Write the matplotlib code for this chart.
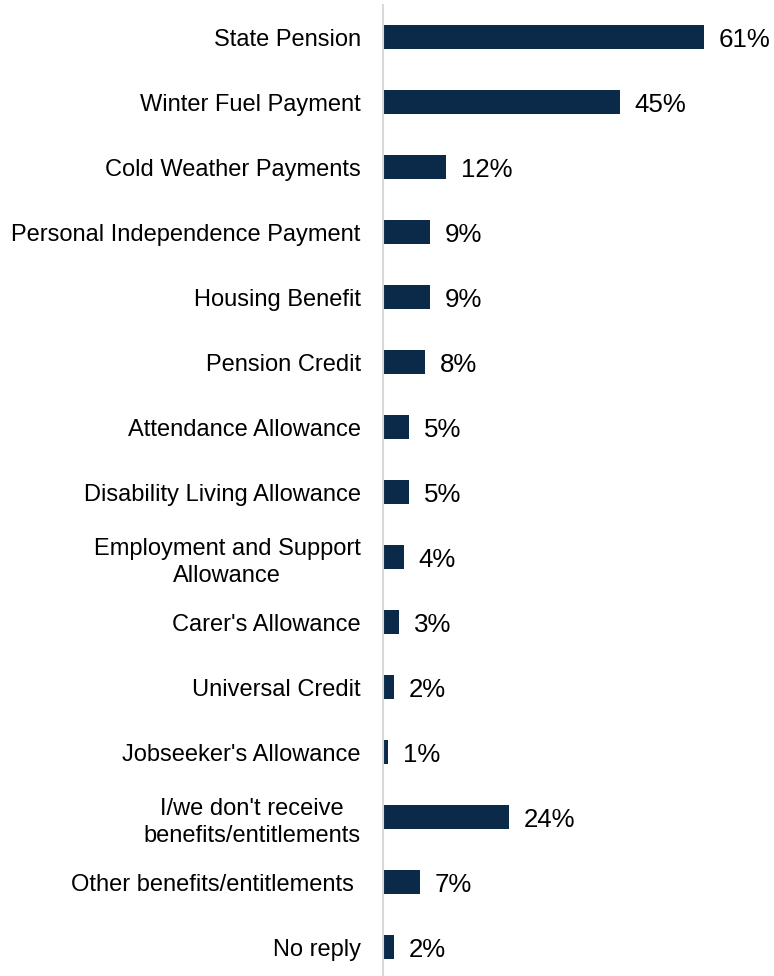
import matplotlib.pyplot as plt

# Benefits / entitlements received
categorias = [
    "State Pension",
    "Winter Fuel Payment",
    "Cold Weather Payments",
    "Personal Independence Payment",
    "Housing Benefit",
    "Pension Credit",
    "Attendance Allowance",
    "Disability Living Allowance",
    "Employment and Support\nAllowance",
    "Carer's Allowance",
    "Universal Credit",
    "Jobseeker's Allowance",
    "I/we don't receive\nbenefits/entitlements",
    "Other benefits/entitlements ",
    "No reply",
]
porcentajes = [61, 45, 12, 9, 9, 8, 5, 5, 4, 3, 2, 1, 24, 7, 2]

COLOR_BARRA = "#0b2a4a"
plt.rcParams["font.family"] = ["Liberation Sans", "DejaVu Sans"]

fig = plt.figure(figsize=(7.74, 9.76), dpi=100)
ax = fig.add_axes([383 / 774, -0.0036, 0.49, 975 / 976])

pos = list(range(len(categorias)))
barras = ax.barh(pos, porcentajes, height=0.36, color=COLOR_BARRA)

for b, v in zip(barras, porcentajes):
    ax.text(b.get_width() + 2.8, b.get_y() + b.get_height() / 2, f"{v}%",
            va="center_baseline", ha="left", fontsize=18.6, color="black")

ax.set_ylim(len(categorias) - 0.5, -0.5)
ax.set_xlim(0, 72)
ax.set_yticks(pos)
ax.set_yticklabels(categorias, fontsize=17, multialignment="center", linespacing=1.3)
ax.tick_params(axis="y", length=0, pad=16)
ax.set_xticks([])

for lado in ["top", "right", "bottom"]:
    ax.spines[lado].set_visible(False)
ax.spines["left"].set_color("#d9d9d9")
ax.spines["left"].set_linewidth(1.5)

plt.savefig("out.png", dpi=100)
